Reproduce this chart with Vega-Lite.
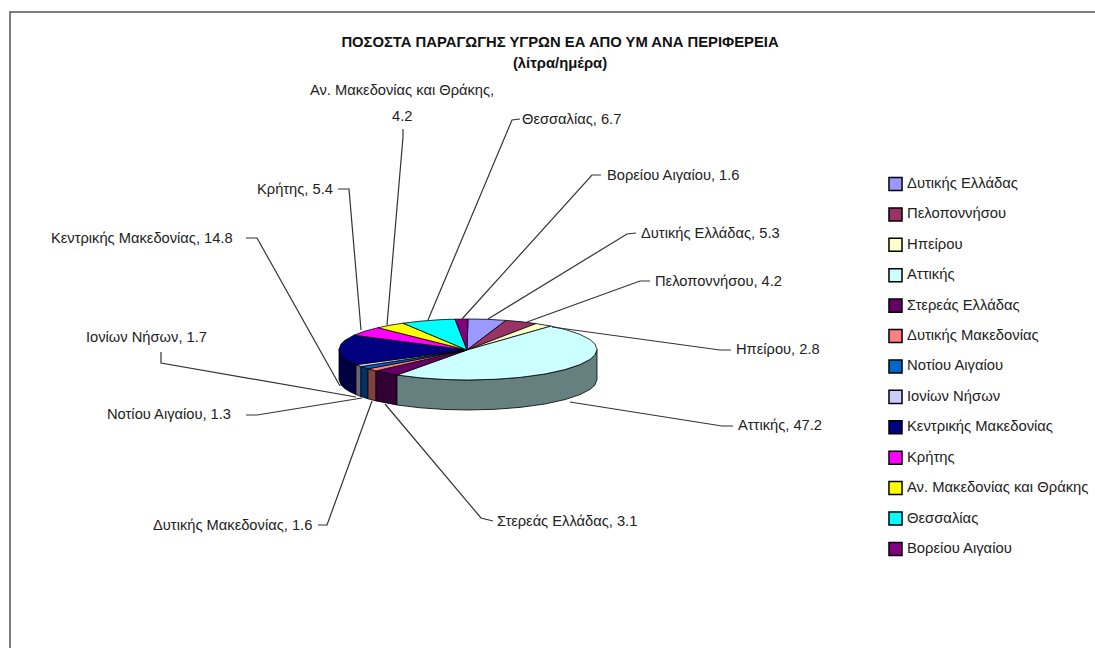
{"$schema":"https://vega.github.io/schema/vega-lite/v6.json","width":1095,"height":648,"padding":0,"autosize":"none","background":"#ffffff","config":{"view":{"stroke":null},"font":"Liberation Sans"},"datasets":{"walls":[
{"type":"Feature","properties":{"wall":"Κεντρικής Μακεδονίας"},"geometry":{"type":"Polygon","coordinates":[[[339,349.5],[341,354.9],[345,358.7],[350,361.8],[356,364.6],[356,394.6],[350,391.8],[345,388.7],[341,384.9],[339,379.5],[339,349.5]]]}},
{"type":"Feature","properties":{"wall":"Ιονίων Νήσων"},"geometry":{"type":"Polygon","coordinates":[[[356,364.6],[361,366.6],[361,396.6],[356,394.6],[356,364.6]]]}},
{"type":"Feature","properties":{"wall":"Νοτίου Αιγαίου"},"geometry":{"type":"Polygon","coordinates":[[[361,366.6],[368,368.8],[368,398.8],[361,396.6],[361,366.6]]]}},
{"type":"Feature","properties":{"wall":"Δυτικής Μακεδονίας"},"geometry":{"type":"Polygon","coordinates":[[[368,368.8],[376,370.9],[376,400.9],[368,398.8],[368,368.8]]]}},
{"type":"Feature","properties":{"wall":"Στερεάς Ελλάδας"},"geometry":{"type":"Polygon","coordinates":[[[376,370.9],[397,375],[397,405],[376,400.9],[376,370.9]]]}},
{"type":"Feature","properties":{"wall":"Αττικής"},"geometry":{"type":"Polygon","coordinates":[[[397,375],[420,377.8],[445,379.5],[468,380],[495,379.3],[520,377.4],[545,374],[565,369.6],[580,364.6],[590,359.4],[595,354.9],[597,349.5],[597,379.5],[595,384.9],[590,389.4],[580,394.6],[565,399.6],[545,404],[520,407.4],[495,409.3],[468,410],[445,409.5],[420,407.8],[397,405],[397,375]]]}}
],"tops":[
{"type":"Feature","properties":{"region":"Δυτικής Ελλάδας","value":5.3},"geometry":{"type":"Polygon","coordinates":[[[467,350],[468,319],[487,319.3],[506,320.4],[467,350]]]}},
{"type":"Feature","properties":{"region":"Πελοποννήσου","value":4.2},"geometry":{"type":"Polygon","coordinates":[[[467,350],[506,320.4],[520,321.6],[536,323.6],[467,350]]]}},
{"type":"Feature","properties":{"region":"Ηπείρου","value":2.8},"geometry":{"type":"Polygon","coordinates":[[[467,350],[536,323.6],[551,326.1],[467,350]]]}},
{"type":"Feature","properties":{"region":"Αττικής","value":47.2},"geometry":{"type":"Polygon","coordinates":[[[467,350],[551,326.1],[565,329.4],[580,334.4],[590,339.6],[595,344.1],[597,349.5],[595,354.9],[590,359.4],[580,364.6],[565,369.6],[545,374],[520,377.4],[495,379.3],[468,380],[445,379.5],[420,377.8],[397,375],[467,350]]]}},
{"type":"Feature","properties":{"region":"Στερεάς Ελλάδας","value":3.1},"geometry":{"type":"Polygon","coordinates":[[[467,350],[397,375],[376,370.9],[467,350]]]}},
{"type":"Feature","properties":{"region":"Δυτικής Μακεδονίας","value":1.6},"geometry":{"type":"Polygon","coordinates":[[[467,350],[376,370.9],[368,368.8],[467,350]]]}},
{"type":"Feature","properties":{"region":"Νοτίου Αιγαίου","value":1.3},"geometry":{"type":"Polygon","coordinates":[[[467,350],[368,368.8],[361,366.6],[467,350]]]}},
{"type":"Feature","properties":{"region":"Ιονίων Νήσων","value":1.7},"geometry":{"type":"Polygon","coordinates":[[[467,350],[361,366.6],[356,364.6],[467,350]]]}},
{"type":"Feature","properties":{"region":"Κεντρικής Μακεδονίας","value":14.8},"geometry":{"type":"Polygon","coordinates":[[[467,350],[356,364.6],[350,361.8],[345,358.7],[341,354.9],[339,349.5],[341,344.1],[345,340.3],[354,335.2],[467,350]]]}},
{"type":"Feature","properties":{"region":"Κρήτης","value":5.4},"geometry":{"type":"Polygon","coordinates":[[[467,350],[354,335.2],[365,331.1],[378,327.7],[467,350]]]}},
{"type":"Feature","properties":{"region":"Αν. Μακεδονίας και Θράκης","value":4.2},"geometry":{"type":"Polygon","coordinates":[[[467,350],[378,327.7],[390,325.2],[403,323.2],[467,350]]]}},
{"type":"Feature","properties":{"region":"Θεσσαλίας","value":6.7},"geometry":{"type":"Polygon","coordinates":[[[467,350],[403,323.2],[420,321.2],[440,319.7],[455,319.2],[467,350]]]}},
{"type":"Feature","properties":{"region":"Βορείου Αιγαίου","value":1.6},"geometry":{"type":"Polygon","coordinates":[[[467,350],[455,319.2],[468,319],[467,350]]]}}
]},
"resolve":{"scale":{"color":"independent"}},
"layer":[
{"data":{"values":[{"g":"t","i":1,"x":1095,"y":12},{"g":"t","i":2,"x":10,"y":12},{"g":"t","i":3,"x":10,"y":648}]},"mark":{"type":"line","stroke":"#555555","strokeWidth":1.5},"encoding":{"x":{"field":"x","type":"quantitative","scale":{"domain":[0,1095],"nice":false,"zero":false},"axis":null},"y":{"field":"y","type":"quantitative","scale":{"domain":[648,0],"nice":false,"zero":false},"axis":null},"order":{"field":"i"},"detail":{"field":"g"}}},
{"data":{"name":"walls"},"projection":{"type":"identity","scale":1,"translate":[0,0]},"mark":{"type":"geoshape","stroke":"#000000","strokeWidth":0.8},"encoding":{"color":{"field":"properties.wall","type":"nominal","legend":null,"scale":{"domain":["Κεντρικής Μακεδονίας","Ιονίων Νήσων","Νοτίου Αιγαίου","Δυτικής Μακεδονίας","Στερεάς Ελλάδας","Αττικής"],"range":["#000040","#666680","#003366","#804040","#330033","#668080"]}}}},
{"data":{"name":"tops"},"projection":{"type":"identity","scale":1,"translate":[0,0]},"mark":{"type":"geoshape","stroke":"#000000","strokeWidth":0.8},"encoding":{"color":{"field":"properties.region","type":"nominal","title":null,"scale":{"domain":["Δυτικής Ελλάδας","Πελοποννήσου","Ηπείρου","Αττικής","Στερεάς Ελλάδας","Δυτικής Μακεδονίας","Νοτίου Αιγαίου","Ιονίων Νήσων","Κεντρικής Μακεδονίας","Κρήτης","Αν. Μακεδονίας και Θράκης","Θεσσαλίας","Βορείου Αιγαίου"],"range":["#9999FF","#993366","#FFFFCC","#CCFFFF","#660066","#FF8080","#0066CC","#CCCCFF","#000080","#FF00FF","#FFFF00","#00FFFF","#800080"]},"legend":{"orient":"none","legendX":888,"legendY":176.5,"symbolType":"square","symbolSize":170,"symbolStrokeColor":"#000000","symbolStrokeWidth":1.5,"symbolOpacity":1,"labelFont":"Liberation Sans","labelFontSize":14.8,"labelColor":"#222222","labelOffset":4,"rowPadding":9.41,"labelLimit":220}}}},
{"data":{"values":[
{"n":"Βορείου Αιγαίου","i":1,"x":601,"y":175},{"n":"Βορείου Αιγαίου","i":2,"x":592,"y":175},{"n":"Βορείου Αιγαίου","i":3,"x":462,"y":319},
{"n":"Θεσσαλίας","i":1,"x":520,"y":119},{"n":"Θεσσαλίας","i":2,"x":512,"y":120},{"n":"Θεσσαλίας","i":3,"x":428,"y":320},
{"n":"Αν. Μακεδονίας και Θράκης","i":1,"x":403,"y":129},{"n":"Αν. Μακεδονίας και Θράκης","i":2,"x":403,"y":137},{"n":"Αν. Μακεδονίας και Θράκης","i":3,"x":387,"y":325},
{"n":"Κρήτης","i":1,"x":338,"y":189},{"n":"Κρήτης","i":2,"x":349,"y":189},{"n":"Κρήτης","i":3,"x":361,"y":330},
{"n":"Κεντρικής Μακεδονίας","i":1,"x":246,"y":238},{"n":"Κεντρικής Μακεδονίας","i":2,"x":257,"y":238},{"n":"Κεντρικής Μακεδονίας","i":3,"x":340,"y":386},
{"n":"Ιονίων Νήσων","i":1,"x":161,"y":352},{"n":"Ιονίων Νήσων","i":2,"x":161,"y":363},{"n":"Ιονίων Νήσων","i":3,"x":356,"y":397},
{"n":"Νοτίου Αιγαίου","i":1,"x":246,"y":415},{"n":"Νοτίου Αιγαίου","i":2,"x":257,"y":415},{"n":"Νοτίου Αιγαίου","i":3,"x":362,"y":398},
{"n":"Δυτικής Μακεδονίας","i":1,"x":318,"y":525},{"n":"Δυτικής Μακεδονίας","i":2,"x":327,"y":525},{"n":"Δυτικής Μακεδονίας","i":3,"x":372,"y":401},
{"n":"Στερεάς Ελλάδας","i":1,"x":493,"y":521},{"n":"Στερεάς Ελλάδας","i":2,"x":481,"y":518},{"n":"Στερεάς Ελλάδας","i":3,"x":385,"y":404},
{"n":"Αττικής","i":1,"x":733,"y":426},{"n":"Αττικής","i":2,"x":722,"y":426},{"n":"Αττικής","i":3,"x":570,"y":402},
{"n":"Ηπείρου","i":1,"x":731,"y":350},{"n":"Ηπείρου","i":2,"x":720,"y":350},{"n":"Ηπείρου","i":3,"x":552,"y":327},
{"n":"Πελοποννήσου","i":1,"x":650,"y":281},{"n":"Πελοποννήσου","i":2,"x":640,"y":281},{"n":"Πελοποννήσου","i":3,"x":527,"y":322},
{"n":"Δυτικής Ελλάδας","i":1,"x":636,"y":233},{"n":"Δυτικής Ελλάδας","i":2,"x":627,"y":234},{"n":"Δυτικής Ελλάδας","i":3,"x":488,"y":319}
]},"mark":{"type":"line","stroke":"#333333","strokeWidth":1.2},"encoding":{"x":{"field":"x","type":"quantitative","axis":null},"y":{"field":"y","type":"quantitative","axis":null},"order":{"field":"i"},"detail":{"field":"n"}}},
{"data":{"values":[
{"t":"Αν. Μακεδονίας και Θράκης,","x":310,"y":91},{"t":"4.2","x":392,"y":117},
{"t":"Θεσσαλίας, 6.7","x":522,"y":120},{"t":"Βορείου Αιγαίου, 1.6","x":607,"y":176},{"t":"Κρήτης, 5.4","x":257,"y":190},{"t":"Δυτικής Ελλάδας, 5.3","x":641,"y":234},{"t":"Κεντρικής Μακεδονίας, 14.8","x":51,"y":239},{"t":"Πελοποννήσου, 4.2","x":655,"y":282},{"t":"Ιονίων Νήσων, 1.7","x":86,"y":338},{"t":"Ηπείρου, 2.8","x":736,"y":350},{"t":"Νοτίου Αιγαίου, 1.3","x":107,"y":415},{"t":"Αττικής, 47.2","x":738,"y":426},{"t":"Στερεάς Ελλάδας, 3.1","x":497,"y":522},{"t":"Δυτικής Μακεδονίας, 1.6","x":153,"y":526}
]},"mark":{"type":"text","align":"left","baseline":"middle","font":"Liberation Sans","fontSize":14.7,"color":"#222222"},"encoding":{"x":{"field":"x","type":"quantitative","axis":null},"y":{"field":"y","type":"quantitative","axis":null},"text":{"field":"t"}}},
{"data":{"values":[{"t":"ΠΟΣΟΣΤΑ ΠΑΡΑΓΩΓΗΣ ΥΓΡΩΝ ΕΑ ΑΠΟ ΥΜ ΑΝΑ ΠΕΡΙΦΕΡΕΙΑ","x":560,"y":43},{"t":"(λίτρα/ημέρα)","x":560,"y":64}]},"mark":{"type":"text","align":"center","baseline":"middle","font":"Liberation Sans","fontSize":14.8,"fontWeight":"bold","color":"#111111"},"encoding":{"x":{"field":"x","type":"quantitative","axis":null},"y":{"field":"y","type":"quantitative","axis":null},"text":{"field":"t"}}}
]}
